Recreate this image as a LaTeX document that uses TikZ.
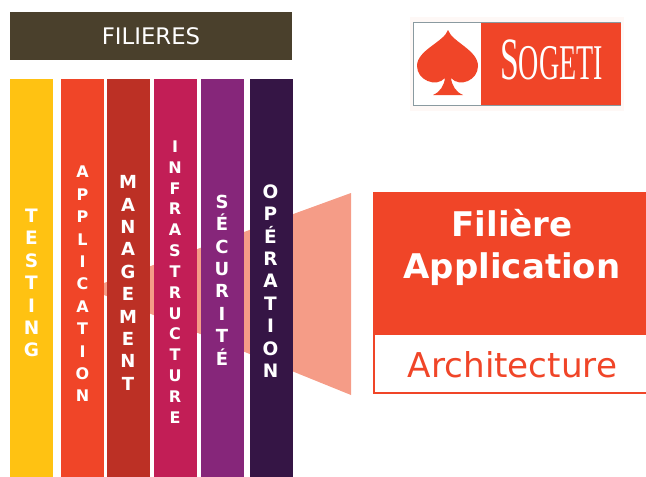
\documentclass[tikz,border=0pt]{standalone}
\usepackage{fontspec}
\setmainfont{DejaVu Sans}
\newfontfamily\logofont{Liberation Serif}
\definecolor{cTesting}{HTML}{FFC212}
\definecolor{cAppli}{HTML}{F04528}
\definecolor{cManage}{HTML}{BC3025}
\definecolor{cInfra}{HTML}{C21E56}
\definecolor{cSecu}{HTML}{86267A}
\definecolor{cOper}{HTML}{351545}
\definecolor{cBar}{HTML}{4A402C}
\definecolor{cFunnel}{HTML}{F59C87}
\definecolor{cEdge}{HTML}{8A9AA0}
\tikzstyle{filiere}=[shape=rectangle,minimum width=43pt,minimum height=398pt,inner sep=0pt,text=white,align=center]
\tikzstyle{letters}=[text=white,align=center,inner sep=0pt]
\begin{document}
\begin{tikzpicture}[x=1pt,y=-1pt]
        \useasboundingbox (0,0) rectangle (646,477);
        % funnel
        \fill[cFunnel] (351,193) -- (104,283) -- (104,295) -- (351,395) -- cycle;
        % columns
        \node[filiere,fill=cTesting] (testing) at (31.5,278) {};
        \node[filiere,fill=cAppli] (application) at (82.5,278) {};
        \node[filiere,fill=cManage] (management) at (128.5,278) {};
        \node[filiere,fill=cInfra] (infrastructure) at (175.5,278) {};
        \node[filiere,fill=cSecu] (securite) at (222.5,278) {};
        \node[filiere,fill=cOper] (operation) at (271.5,278) {};
        % column letters
        \node[letters,font=\bfseries\fontsize{18.5}{22.4}\selectfont] (testingtext) at (31.5,283) {T\\E\\S\\T\\I\\N\\G};
        \node[letters,font=\bfseries\fontsize{16}{22.4}\selectfont] (applicationtext) at (82.5,284) {A\\P\\P\\L\\I\\C\\A\\T\\I\\O\\N};
        \node[letters,font=\bfseries\fontsize{18}{22.4}\selectfont] (managementtext) at (128,283) {M\\A\\N\\A\\G\\E\\M\\E\\N\\T};
        \node[letters,font=\bfseries\fontsize{16}{20.85}\selectfont] (infrastructuretext) at (175,282) {I\\N\\F\\R\\A\\S\\T\\R\\U\\C\\T\\U\\R\\E};
        \node[letters,font=\bfseries\fontsize{18}{22.4}\selectfont] (securitetext) at (222,280) {S\\É\\C\\U\\R\\I\\T\\É};
        \node[letters,font=\bfseries\fontsize{18.5}{22.4}\selectfont] (operationtext) at (270.5,281) {O\\P\\É\\R\\A\\T\\I\\O\\N};
        % title bar
        \node[shape=rectangle,minimum width=282pt,minimum height=48pt,inner sep=0pt,fill=cBar,text=white,font=\fontsize{22.8}{26}\selectfont] (filieres) at (151,36) {FILIERES};
        % detail box
        \node[shape=rectangle,minimum width=273pt,minimum height=143pt,inner sep=0pt,fill=cAppli] (detail) at (509.5,263.5) {};
        \node[shape=rectangle,minimum width=274pt,minimum height=59pt,inner sep=0pt,draw=cAppli,line width=2pt] (architecture) at (511,363.5) {};
        \node[text=cAppli,inner sep=0pt,font=\fontsize{34.2}{40}\selectfont] (archtext) at (512.5,365) {Architecture};
        \node[letters,font=\bfseries\fontsize{34}{42}\selectfont] (title) at (512,247) {Filière\\Application};
        % logo
        \node[shape=rectangle,minimum width=214pt,minimum height=94pt,inner sep=0pt,fill=cAppli!4] (logohalo) at (517,64) {};
        \node[shape=rectangle,minimum width=207pt,minimum height=83pt,inner sep=0pt,fill=white,draw=cEdge,line width=.8pt] (logo) at (516.5,63.5) {};
        \node[shape=rectangle,minimum width=140pt,minimum height=82pt,inner sep=0pt,fill=cAppli] (logotext) at (551,64) {};
        \node[text=white,inner sep=0pt,xscale=.56,font=\logofont\fontsize{50}{50}\selectfont] (sogeti) at (551.5,60) {{\fontsize{60}{50}\selectfont S}OGETI};
        \fill[cAppli] (448,30) .. controls (444,42) and (417,50) .. (417,66) .. controls (417,80) and (436,88) .. (445,78) .. controls (444,86) and (440,92) .. (433,95) -- (463,95) .. controls (456,92) and (452,86) .. (451,78) .. controls (460,88) and (478,80) .. (478,66) .. controls (478,50) and (452,42) .. (448,30);
    \end{tikzpicture}
\end{document}
